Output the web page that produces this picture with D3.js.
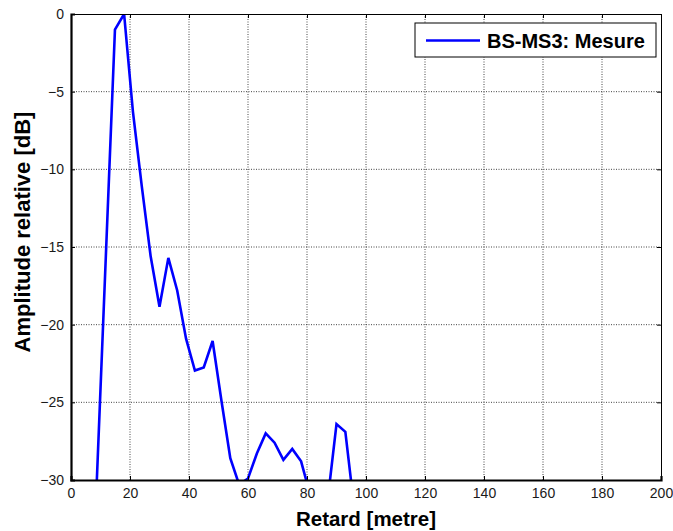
<!DOCTYPE html>
<html>
<head>
<meta charset="utf-8">
<script src="https://cdn.jsdelivr.net/npm/d3@7"></script>
<style>
  body { margin: 0; background: #fff; }
  text { font-family: "Liberation Sans", Arial, sans-serif; }
</style>
</head>
<body>
<div class="chart"></div>
<script>
// data (delay in metres, relative amplitude in dB)
const delays = [8, 14.9, 18, 21, 24, 27, 30, 33, 36, 39, 42, 45, 48, 51, 54, 57, 60, 63, 66, 69, 72, 75, 78, 81, 84, 87, 90, 93, 96];
const amplitudes = [-33.6, -1.0, 0, -6.3, -11.1, -15.6, -18.85, -15.7, -17.8, -20.9, -22.95, -22.75, -21.05, -24.9, -28.6, -30.3, -29.9, -28.3, -27.0, -27.6, -28.7, -28.0, -28.8, -30.9, -33, -31.3, -26.4, -26.9, -31.8];
const xTicks = [0, 20, 40, 60, 80, 100, 120, 140, 160, 180, 200];
const yTicks = [0, -5, -10, -15, -20, -25, -30];
const seriesName = 'BS-MS3: Mesure';

const margin = { top: 14, right: 12, bottom: 51, left: 71 };
const width = 673 - margin.left - margin.right;
const height = 531 - margin.top - margin.bottom;

const svg = d3.select('.chart')
  .append('svg')
  .attr('width', width + margin.left + margin.right)
  .attr('height', height + margin.top + margin.bottom)
  .append('g')
  .attr('transform', `translate(${margin.left}, ${margin.top})`);

const xScale = d3.scaleLinear().domain([0, 200]).range([0, width]);
const yScale = d3.scaleLinear().domain([-30, 0]).range([height, 0]);

// dotted grid
const grid = svg.append('g').attr('class', 'grid');
grid.selectAll('.gx').data(xTicks.slice(1, -1)).enter().append('line')
  .attr('x1', d => xScale(d)).attr('x2', d => xScale(d))
  .attr('y1', 0).attr('y2', height);
grid.selectAll('.gy').data(yTicks.slice(1, -1)).enter().append('line')
  .attr('y1', d => yScale(d)).attr('y2', d => yScale(d))
  .attr('x1', 0).attr('x2', width);
grid.selectAll('line')
  .style('stroke', '#444')
  .style('stroke-width', 1)
  .style('stroke-dasharray', '1,1.5');

// data line, clipped to the axes box
svg.append('clipPath').attr('id', 'clip')
  .append('rect').attr('width', width).attr('height', height);

const line = d3.line()
  .x((d, i) => xScale(delays[i]))
  .y(d => yScale(d));

svg.append('path')
  .datum(amplitudes)
  .attr('clip-path', 'url(#clip)')
  .attr('d', line)
  .style('fill', 'none')
  .style('stroke', '#0000ff')
  .style('stroke-width', 2.6)
  .style('stroke-linejoin', 'miter');

// axes with inward ticks (like matlab)
const xAxis = d3.axisBottom(xScale).tickValues(xTicks).tickSize(-4).tickPadding(8);
const yAxis = d3.axisLeft(yScale).tickValues(yTicks).tickSize(-4).tickPadding(7);

const gx = svg.append('g')
  .attr('transform', `translate(0, ${height})`)
  .call(xAxis);
const gy = svg.append('g').call(yAxis);

svg.append('g').call(d3.axisTop(xScale).tickValues(xTicks).tickSize(-4).tickFormat(''));
svg.append('g').attr('transform', `translate(${width}, 0)`)
  .call(d3.axisRight(yScale).tickValues(yTicks).tickSize(-4).tickFormat(''));

svg.selectAll('.domain').style('stroke', '#000').style('stroke-width', 1);
svg.selectAll('.tick line').style('stroke', '#000');
svg.selectAll('.tick text')
  .style('font-size', '14px')
  .style('fill', '#1a1a1a');

// heavier left and bottom axis lines
gx.select('.domain').style('stroke-width', 2.2);
gy.select('.domain').style('stroke-width', 2.2);

// axis titles
svg.append('text')
  .attr('x', width / 2)
  .attr('y', height + 46)
  .attr('text-anchor', 'middle')
  .style('font-size', '20.5px')
  .style('font-weight', 'bold')
  .text('Retard [metre]');

svg.append('text')
  .attr('transform', `translate(-41, ${height / 2 - 15}) rotate(-90)`)
  .attr('text-anchor', 'middle')
  .style('font-size', '22px')
  .style('font-weight', 'bold')
  .text('Amplitude relative [dB]');

// legend
const legend = svg.append('g').attr('transform', `translate(${width - 246}, 9)`);
legend.append('rect')
  .attr('width', 241).attr('height', 34)
  .style('fill', '#fff')
  .style('stroke', '#000')
  .style('stroke-width', 1);
legend.append('line')
  .attr('x1', 11).attr('x2', 65)
  .attr('y1', 17.5).attr('y2', 17.5)
  .style('stroke', '#0000ff')
  .style('stroke-width', 2.6);
legend.append('text')
  .attr('x', 72).attr('y', 25)
  .style('font-size', '20px')
  .style('font-weight', 'bold')
  .text(seriesName);
</script>
</body>
</html>
